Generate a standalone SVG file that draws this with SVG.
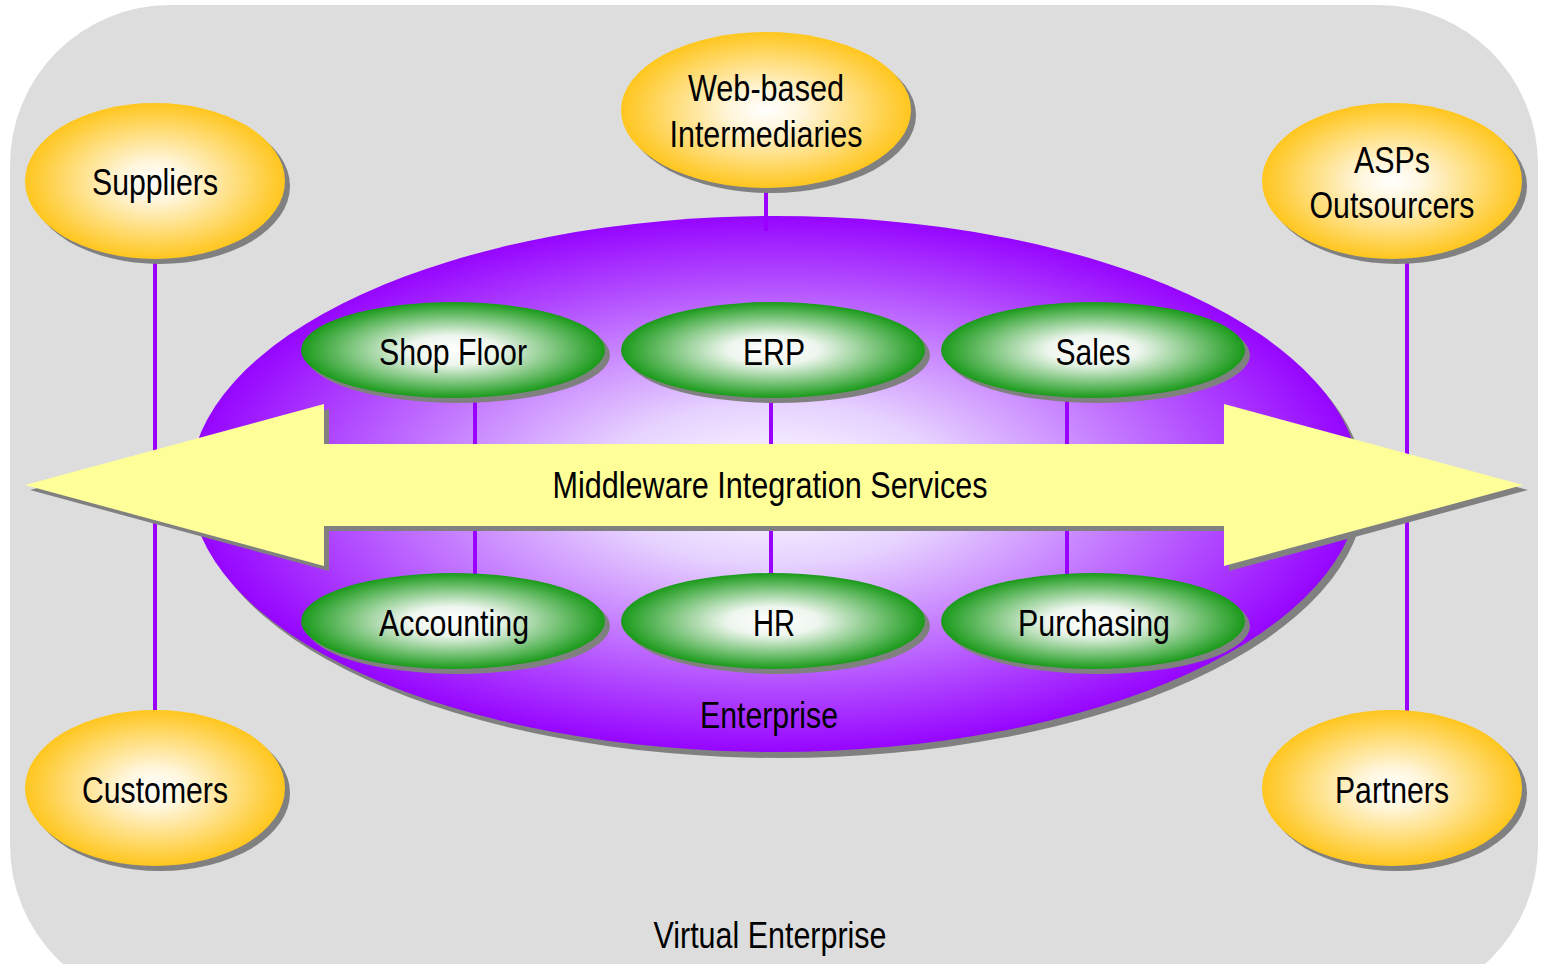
<svg xmlns="http://www.w3.org/2000/svg" width="1545" height="964" viewBox="0 0 1545 964">
<defs>
<radialGradient id="gy" cx="50%" cy="50%" r="50%">
<stop offset="0" stop-color="#FFFFFF"/>
<stop offset="0.25" stop-color="#FFF6DC"/>
<stop offset="1" stop-color="#FFC61E"/>
</radialGradient>
<radialGradient id="gg" cx="50%" cy="50%" r="50%">
<stop offset="0" stop-color="#FFFFFF"/>
<stop offset="0.3" stop-color="#EEF6EE"/>
<stop offset="1" stop-color="#1A9A1A"/>
</radialGradient>
<radialGradient id="gp" cx="50%" cy="50%" r="50%">
<stop offset="0" stop-color="#FFFFFF"/>
<stop offset="0.3" stop-color="#E6D2FF"/>
<stop offset="1" stop-color="#9605FF"/>
</radialGradient>
<style>
.sh{fill:#808080}
.y{fill:url(#gy)}
.g{fill:url(#gg)}
.p{fill:url(#gp)}
.ln{stroke:#9900FF;stroke-width:4;fill:none}
text{font-family:"Liberation Sans Narrow","Arial Narrow","Liberation Sans",Arial,sans-serif;font-size:36px;fill:#000;text-anchor:middle}
</style>
</defs>
<rect x="10" y="5" width="1528" height="1000" rx="160" ry="160" fill="#DDDDDD"/>
<text x="770" y="948" textLength="233" lengthAdjust="spacingAndGlyphs">Virtual Enterprise</text>

<g id="connectors">
<line class="ln" x1="155" y1="258" x2="155" y2="712"/>
<line class="ln" x1="1407" y1="258" x2="1407" y2="712"/>
</g>

<g id="enterprise">
<ellipse class="sh" cx="780" cy="490" rx="585" ry="268"/>
<ellipse class="p" cx="775" cy="484" rx="585" ry="268"/>
<text x="769" y="728" textLength="138" lengthAdjust="spacingAndGlyphs">Enterprise</text>
</g>

<g id="inner-connectors">
<line class="ln" x1="766" y1="186" x2="766" y2="231"/>
<line class="ln" x1="475" y1="398" x2="475" y2="584"/>
<line class="ln" x1="771" y1="398" x2="771" y2="584"/>
<line class="ln" x1="1067" y1="398" x2="1067" y2="584"/>
</g>

<g id="suppliers">
<ellipse class="sh" cx="160" cy="186" rx="130" ry="78"/>
<ellipse class="y" cx="155" cy="181" rx="130" ry="78"/>
<text x="155" y="195" textLength="126" lengthAdjust="spacingAndGlyphs">Suppliers</text>
</g>
<g id="web-based">
<ellipse class="sh" cx="771" cy="115" rx="145" ry="78"/>
<ellipse class="y" cx="766" cy="110" rx="145" ry="78"/>
<text x="766" y="101" textLength="156" lengthAdjust="spacingAndGlyphs">Web-based</text>
<text x="766" y="147" textLength="193" lengthAdjust="spacingAndGlyphs">Intermediaries</text>
</g>
<g id="asps">
<ellipse class="sh" cx="1397" cy="186" rx="130" ry="78"/>
<ellipse class="y" cx="1392" cy="181" rx="130" ry="78"/>
<text x="1392" y="173" textLength="76" lengthAdjust="spacingAndGlyphs">ASPs</text>
<text x="1392" y="218" textLength="165" lengthAdjust="spacingAndGlyphs">Outsourcers</text>
</g>
<g id="customers">
<ellipse class="sh" cx="160" cy="793" rx="130" ry="78"/>
<ellipse class="y" cx="155" cy="788" rx="130" ry="78"/>
<text x="155" y="803" textLength="146" lengthAdjust="spacingAndGlyphs">Customers</text>
</g>
<g id="partners">
<ellipse class="sh" cx="1397" cy="793" rx="130" ry="78"/>
<ellipse class="y" cx="1392" cy="788" rx="130" ry="78"/>
<text x="1392" y="803" textLength="114" lengthAdjust="spacingAndGlyphs">Partners</text>
</g>

<g id="shop-floor">
<ellipse class="sh" cx="458" cy="355" rx="152" ry="48"/>
<ellipse class="g" cx="453" cy="350" rx="152" ry="48"/>
<text x="453" y="365" textLength="148" lengthAdjust="spacingAndGlyphs">Shop Floor</text>
</g>
<g id="erp">
<ellipse class="sh" cx="778" cy="355" rx="152" ry="48"/>
<ellipse class="g" cx="773" cy="350" rx="152" ry="48"/>
<text x="774" y="365" textLength="62" lengthAdjust="spacingAndGlyphs">ERP</text>
</g>
<g id="sales">
<ellipse class="sh" cx="1098" cy="355" rx="152" ry="48"/>
<ellipse class="g" cx="1093" cy="350" rx="152" ry="48"/>
<text x="1093" y="365" textLength="75" lengthAdjust="spacingAndGlyphs">Sales</text>
</g>
<g id="accounting">
<ellipse class="sh" cx="458" cy="626" rx="152" ry="48"/>
<ellipse class="g" cx="453" cy="621" rx="152" ry="48"/>
<text x="454" y="636" textLength="150" lengthAdjust="spacingAndGlyphs">Accounting</text>
</g>
<g id="hr">
<ellipse class="sh" cx="778" cy="626" rx="152" ry="48"/>
<ellipse class="g" cx="773" cy="621" rx="152" ry="48"/>
<text x="774" y="636" textLength="42" lengthAdjust="spacingAndGlyphs">HR</text>
</g>
<g id="purchasing">
<ellipse class="sh" cx="1098" cy="626" rx="152" ry="48"/>
<ellipse class="g" cx="1093" cy="621" rx="152" ry="48"/>
<text x="1094" y="636" textLength="152" lengthAdjust="spacingAndGlyphs">Purchasing</text>
</g>

<g id="middleware">
<polygon class="sh" transform="translate(5,5)" points="25,485 324,404 324,444 1224,444 1224,404 1523,485 1224,566 1224,526 324,526 324,566"/>
<polygon fill="#FFFF99" points="25,485 324,404 324,444 1224,444 1224,404 1523,485 1224,566 1224,526 324,526 324,566"/>
<text x="770" y="498" textLength="435" lengthAdjust="spacingAndGlyphs">Middleware Integration Services</text>
</g>
</svg>
